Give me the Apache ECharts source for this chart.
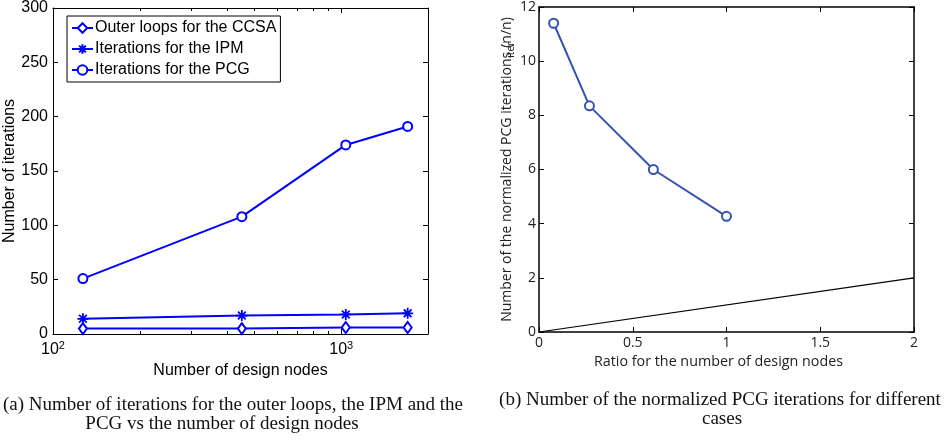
<!DOCTYPE html>
<html>
<head>
<meta charset="utf-8">
<script src="https://cdn.jsdelivr.net/npm/echarts@6/dist/echarts.min.js"></script>
<style>
html, body { margin: 0; padding: 0; background: #fff; }
#chart { width: 951px; height: 440px; }
</style>
</head>
<body>
<div id="chart"></div>
<script>
// (a) iterations vs number of design nodes
const designNodes = [127, 452, 1037, 1700];
const outerLoops = [5, 5, 6, 6];
const ipmIters = [14, 17, 18, 19];
const pcgIters = [51, 108, 174, 191];
const logMinorTicks = [200, 300, 400, 500, 600, 700, 800, 900];

// (b) normalized PCG iterations vs ratio of design nodes
const nodeRatio = [0.078, 0.269, 0.61, 1.0];
const normPcg = [11.4, 8.35, 6.0, 4.27];
const refX = [0, 2];
const refY = [0, 2];

const blue = '#0000ff';
const blueB = '#3553b0';
const sansA = '"Liberation Sans", Arial, sans-serif';
const sansB = '"Open Sans", "Noto Sans", sans-serif';
const serif = '"Liberation Serif", serif';

function zip(xs, ys) {
  return xs.map((x, i) => [x, ys[i]]);
}

const asterisk = 'path://M5 0L5 10M0 5L10 5M1.5 1.5L8.5 8.5M1.5 8.5L8.5 1.5';

// frame axis helpers (MATLAB style box with inner ticks)
function frameAxis(extra, lineW) {
  return Object.assign({
    axisLine: { show: true, onZero: false, lineStyle: { color: '#000', width: lineW } },
    axisTick: { show: true, inside: true, length: 5, lineStyle: { color: '#000' } },
    splitLine: { show: false }
  }, extra);
}

const chart = echarts.init(document.getElementById('chart'));

const option = {
  animation: false,
  backgroundColor: '#fff',
  grid: [
    { left: 53, top: 5, width: 375, height: 329 },
    { left: 539, top: 7, width: 375, height: 325 }
  ],
  legend: {
    left: 67,
    top: 16,
    orient: 'vertical',
    data: ['Outer loops for the CCSA', 'Iterations for the IPM', 'Iterations for the PCG'],
    backgroundColor: '#fff',
    borderColor: '#000',
    borderWidth: 1,
    borderRadius: 0,
    padding: [4, 4, 4, 4],
    itemGap: 5,
    itemWidth: 21,
    itemHeight: 12,
    textStyle: { fontFamily: sansA, fontSize: 16, color: '#000', padding: [0, 0, 0, -3] }
  },
  xAxis: [
    frameAxis({
      gridIndex: 0, type: 'log', logBase: 10, min: 100, max: 2000,
      name: 'Number of design nodes', nameLocation: 'middle', nameGap: 20,
      nameTextStyle: { fontFamily: sansA, fontSize: 16, color: '#000' },
      axisLabel: {
        margin: 6,
        fontFamily: sansA, fontSize: 16, color: '#000',
        formatter: function (v) {
          const e = Math.log10(v);
          if (Math.abs(e - Math.round(e)) > 1e-6) return '';
          return '10{sup|' + Math.round(e) + '}';
        },
        rich: {
          sup: { fontFamily: sansA, fontSize: 11, color: '#000', verticalAlign: 'top', padding: [0, 0, 8, 0] }
        }
      }
    }, 1),
    frameAxis({
      gridIndex: 0, type: 'log', logBase: 10, min: 100, max: 2000, position: 'top',
      axisLabel: { show: false }
    }, 1),
    frameAxis({
      gridIndex: 1, type: 'value', min: 0, max: 2, interval: 0.5,
      name: 'Ratio for the number of design nodes', nameLocation: 'middle', nameGap: 21,
      nameTextStyle: { fontFamily: sansB, fontSize: 14.3, color: '#222', padding: [0, 16, 0, 0] },
      axisLabel: { margin: 4, fontFamily: sansB, fontSize: 14, color: '#222' }
    }, 1.5),
    frameAxis({
      gridIndex: 1, type: 'value', min: 0, max: 2, interval: 0.5, position: 'top',
      axisLabel: { show: false }
    }, 1.5)
  ],
  yAxis: [
    frameAxis({
      gridIndex: 0, type: 'value', min: 0, max: 300, interval: 50,
      name: 'Number of iterations', nameLocation: 'middle', nameGap: 31,
      nameTextStyle: { fontFamily: sansA, fontSize: 16, color: '#000' },
      axisLabel: { margin: 5, fontFamily: sansA, fontSize: 16, color: '#000' }
    }, 1),
    frameAxis({
      gridIndex: 0, type: 'value', min: 0, max: 300, interval: 50, position: 'right',
      axisLabel: { show: false }
    }, 1),
    frameAxis({
      gridIndex: 1, type: 'value', min: 0, max: 12, interval: 2,
      name: 'Number of the normalized PCG iterations{sub|iter}(n/n)',
      nameLocation: 'middle', nameGap: 23,
      nameTextStyle: {
        fontFamily: sansB, fontSize: 14, color: '#222', lineHeight: 18,
        rich: {
          sub: { fontFamily: sansB, fontSize: 10, color: '#222', width: 4, align: 'center', verticalAlign: 'bottom', lineHeight: 10 }
        }
      },
      axisLabel: { margin: 3, fontFamily: sansB, fontSize: 14, color: '#222' }
    }, 1.5),
    frameAxis({
      gridIndex: 1, type: 'value', min: 0, max: 12, interval: 2, position: 'right',
      axisLabel: { show: false }
    }, 1.5)
  ],
  graphic: [
    { type: 'text', x: 233, y: 405, style: { text: '(a) Number of iterations for the outer loops, the IPM and the', font: '19px ' + serif, fill: '#111', align: 'center', verticalAlign: 'middle' } },
    { type: 'text', x: 222, y: 424, style: { text: 'PCG vs the number of design nodes', font: '19px ' + serif, fill: '#111', align: 'center', verticalAlign: 'middle' } },
    { type: 'text', x: 720, y: 400, style: { text: '(b) Number of the normalized PCG iterations for different', font: '19px ' + serif, fill: '#111', align: 'center', verticalAlign: 'middle' } },
    { type: 'text', x: 722, y: 419, style: { text: 'cases', font: '19px ' + serif, fill: '#111', align: 'center', verticalAlign: 'middle' } }
  ],
  series: [
    {
      name: 'Outer loops for the CCSA', type: 'line', xAxisIndex: 0, yAxisIndex: 0,
      data: zip(designNodes, outerLoops),
      symbol: 'emptyDiamond', symbolSize: [8, 11],
      lineStyle: { color: blue, width: 2 },
      itemStyle: { color: blue, borderWidth: 1.5 }
    },
    {
      name: 'Iterations for the IPM', type: 'line', xAxisIndex: 0, yAxisIndex: 0,
      data: zip(designNodes, ipmIters),
      symbol: asterisk, symbolSize: 11,
      lineStyle: { color: blue, width: 2 },
      itemStyle: { color: blue, borderColor: blue, borderWidth: 1.8 }
    },
    {
      name: 'Iterations for the PCG', type: 'line', xAxisIndex: 0, yAxisIndex: 0,
      data: zip(designNodes, pcgIters),
      symbol: 'emptyCircle', symbolSize: 9,
      lineStyle: { color: blue, width: 2 },
      itemStyle: { color: blue, borderWidth: 1.5 }
    },
    {
      // minor ticks of the log axis, bottom and top
      type: 'custom', xAxisIndex: 0, yAxisIndex: 0, silent: true,
      data: logMinorTicks.map(v => [v, 0]),
      renderItem: function (params, api) {
        const b = api.coord([api.value(0), 0]);
        const t = api.coord([api.value(0), 300]);
        const x = Math.round(b[0]) + 0.5;
        return {
          type: 'group',
          children: [
            { type: 'line', shape: { x1: x, y1: b[1], x2: x, y2: b[1] - 3 }, style: { stroke: '#000', lineWidth: 1 } },
            { type: 'line', shape: { x1: x, y1: t[1], x2: x, y2: t[1] + 3 }, style: { stroke: '#000', lineWidth: 1 } }
          ]
        };
      }
    },
    {
      name: 'normalized', type: 'line', xAxisIndex: 2, yAxisIndex: 2,
      data: zip(nodeRatio, normPcg),
      symbol: 'emptyCircle', symbolSize: 9,
      lineStyle: { color: blueB, width: 2 },
      itemStyle: { color: blueB, borderWidth: 2 }
    },
    {
      name: 'reference', type: 'line', xAxisIndex: 2, yAxisIndex: 2,
      data: zip(refX, refY),
      symbol: 'none',
      lineStyle: { color: '#000', width: 1.2 }
    }
  ]
};

chart.setOption(option);
</script>
</body>
</html>
